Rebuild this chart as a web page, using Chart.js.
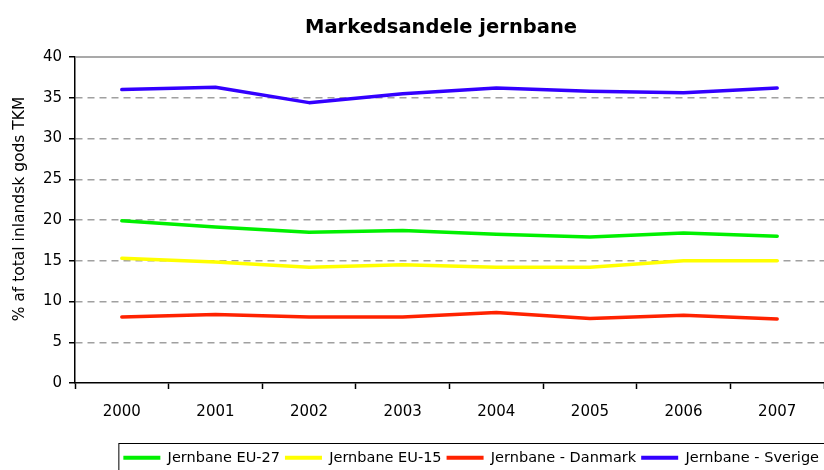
<!DOCTYPE html>
<html>
<head>
<meta charset="utf-8">
<script src="https://cdn.jsdelivr.net/npm/chart.js@4"></script>
<style>
  html, body { margin: 0; padding: 0; background: #fff; overflow: hidden; }
  #wrap { width: 824px; height: 470px; }
</style>
</head>
<body>
<div id="wrap"><canvas id="grafico" width="824" height="470"></canvas></div>
<script>
// Markedsandele jernbane - andel af inlandsk godstransport (TKM)

const aar        = ["2000", "2001", "2002", "2003", "2004", "2005", "2006", "2007"];
const eu27       = [19.9, 19.15, 18.5, 18.7, 18.25, 17.9, 18.4, 18.0];
const eu15       = [15.3, 14.85, 14.2, 14.5, 14.2, 14.2, 15.0, 15.0];
const danmark    = [8.1, 8.4, 8.1, 8.1, 8.65, 7.9, 8.3, 7.85];
const sverige    = [36.0, 36.3, 34.4, 35.5, 36.2, 35.8, 35.6, 36.2];
const serieNavne = ["Jernbane EU-27", "Jernbane EU-15", "Jernbane - Danmark", "Jernbane - Sverige"];
const farver     = ["#00f000", "#ffff00", "#ff2200", "#3300ff"];

const FONT = "'DejaVu Sans', sans-serif";
const BUND = 5; // negativ bundmargen

function serie(i, data) {
  return {
    label: serieNavne[i],
    data: data,
    borderColor: farver[i],
    backgroundColor: farver[i],
    borderWidth: 3.5,
    borderCapStyle: "round",
    borderJoinStyle: "round",
    pointRadius: 0,
    tension: 0
  };
}

// titel, y-aksetitel, ramme øverst og ramme om legend
const ekstra = {
  id: "ekstra",
  afterDraw(chart) {
    const ctx = chart.ctx;
    const a = chart.chartArea;
    ctx.save();
    ctx.strokeStyle = "#8c8c8c";
    ctx.lineWidth = 1.5;
    ctx.beginPath();
    ctx.moveTo(a.left, a.top);
    ctx.lineTo(a.right, a.top);
    ctx.stroke();

    ctx.fillStyle = "#000";
    ctx.textAlign = "center";
    ctx.textBaseline = "middle";
    ctx.font = "bold 19.5px " + FONT;
    ctx.fillText("Markedsandele jernbane", 441, 28);

    ctx.save();
    ctx.translate(20, 209);
    ctx.rotate(-Math.PI / 2);
    ctx.font = "15.5px " + FONT;
    ctx.fillText("% af total inlandsk gods TKM", 0, 0);
    ctx.restore();

    const hb = chart.legend.legendHitBoxes;
    if (hb && hb.length) {
      const first = hb[0], last = hb[hb.length - 1];
      ctx.strokeStyle = "#000";
      ctx.lineWidth = 1;
      ctx.strokeRect(first.left - 4.5, 443.5, last.left + last.width - first.left + 10, 30);
    }
    ctx.restore();
  }
};

new Chart(document.getElementById("grafico"), {
  type: "line",
  data: {
    labels: aar,
    datasets: [serie(0, eu27), serie(1, eu15), serie(2, danmark), serie(3, sverige)]
  },
  options: {
    responsive: false,
    animation: false,
    layout: { padding: { top: 57, left: 0, right: 0, bottom: -BUND } },
    plugins: {
      title: { display: false },
      tooltip: { enabled: false },
      legend: {
        position: "bottom",
        align: "end",
        labels: {
          color: "#000",
          font: { family: FONT, size: 14.5 },
          boxWidth: 37,
          boxHeight: 4,
          padding: 5,
          generateLabels(chart) {
            const items = Chart.defaults.plugins.legend.labels.generateLabels(chart);
            items.forEach(it => { it.lineWidth = 0; });
            return items;
          }
        }
      }
    },
    scales: {
      x: {
        offset: true,
        afterFit(scale) { scale.height = 470 + BUND - scale.chart.legend.height - 383; },
        grid: {
          display: true,
          offset: true,
          drawOnChartArea: false,
          tickColor: "#000",
          tickLength: 6,
          tickWidth: 1.5
        },
        border: { color: "#000", width: 1.5 },
        ticks: { color: "#000", font: { family: FONT, size: 15 }, padding: 14, maxRotation: 0 }
      },
      y: {
        min: 0,
        max: 40,
        afterFit(scale) { scale.width = 75; },
        ticks: { stepSize: 5, color: "#000", font: { family: FONT, size: 15 }, padding: 7 },
        grid: {
          color: c => (c.tick && (c.tick.value === 40 || c.tick.value === 0)) ? "rgba(0,0,0,0)" : "#a0a0a0",
          lineWidth: 1.5,
          tickColor: "#000",
          tickLength: 6,
          tickWidth: 1.5
        },
        border: { color: "#000", width: 1.5, dash: [7, 5] }
      }
    }
  },
  plugins: [ekstra]
});
</script>
</body>
</html>
